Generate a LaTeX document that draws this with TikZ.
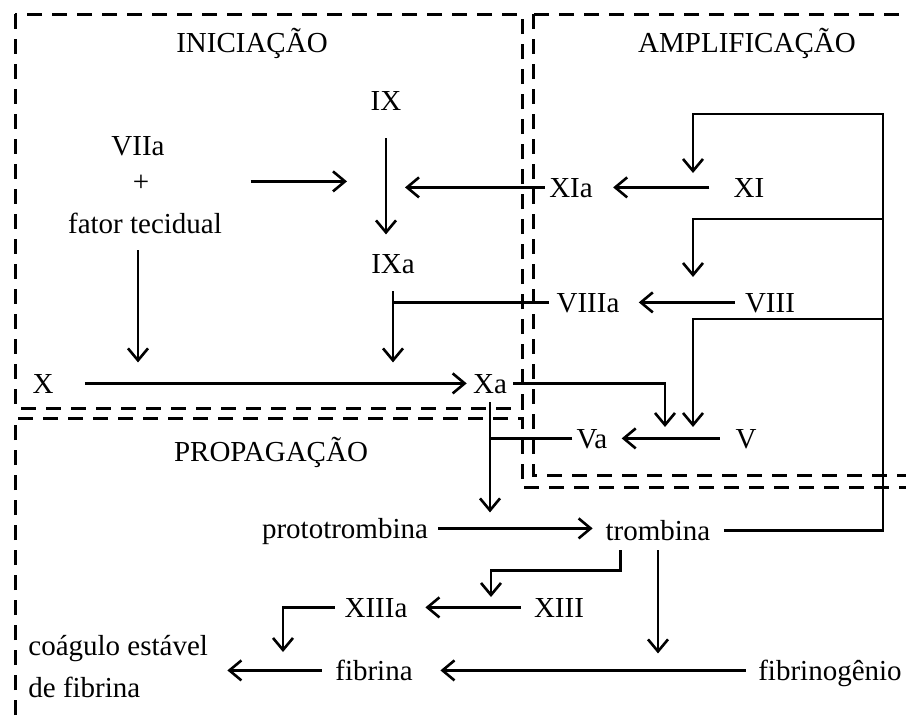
\documentclass[tikz,border=0pt]{standalone}
\usepackage{fontspec}
\setmainfont{Liberation Serif}
\usetikzlibrary{arrows.meta}
\tikzset{
  fac/.style={inner sep=0pt, anchor=base, text height=9.6pt, text depth=0pt, font=\fontsize{14.5}{17}\selectfont},
  lig/.style={line width=1.3pt},
  arr/.style={lig, -{Straight Barb[length=6pt,width=10pt]}},
  caixa/.style={line width=1.5pt, dash pattern=on 7.5pt off 5pt},
}
\begin{document}
\begin{tikzpicture}[x=0.5pt,y=-0.5pt]
\useasboundingbox (0,0) rectangle (906,718);
\clip (0,0) rectangle (906,718);

%Shape: Rectangle (fases)
\draw[caixa] (15,14) rectangle (522,408);
\draw[caixa] (533,14) rectangle (930,475);
\draw[caixa] (15,740) |- (522,418) |- (930,487);

% Text Node
\node[fac] (tIni) at (252,52) {INICIAÇÃO};
\node[fac] (tAmp) at (747,52) {AMPLIFICAÇÃO};
\node[fac] (tProp) at (271,461) {PROPAGAÇÃO};
% Text Node
\node[fac] (VIIa) at (138,155) {VIIa};
\node[fac] (plus) at (141,191) {+};
\node[fac] (tf) at (145,233) {fator tecidual};
\node[fac] (IX) at (386,110) {IX};
\node[fac] (IXa) at (393,273) {IXa};
\node[fac] (X) at (43,393) {X};
\node[fac] (Xa) at (490,393) {Xa};
% Text Node
\node[fac] (XIa) at (571,197) {XIa};
\node[fac] (XI) at (749,197) {XI};
\node[fac] (VIIIa) at (588,312) {VIIIa};
\node[fac] (VIII) at (770,312) {VIII};
\node[fac] (Va) at (592,448) {Va};
\node[fac] (V) at (746,448) {V};
% Text Node
\node[fac] (proto) at (345,538) {prototrombina};
\node[fac] (trombina) at (658,540) {trombina};
\node[fac] (XIII) at (559,617) {XIII};
\node[fac] (XIIIa) at (376,617) {XIIIa};
\node[fac] (fibrina) at (374,680) {fibrina};
\node[fac] (fibrinog) at (830,680) {fibrinogênio};
\node[fac, anchor=base west] (coag) at (28,655) {coágulo estável};
\node[fac, anchor=base west] (coag2) at (28,697) {de fibrina};

%free ends of the connectors
\coordinate (tXI) at (693,173);
\coordinate (tVIII) at (693,277);
\coordinate (tV) at (693,427);
\coordinate (tXa) at (665,427);
\coordinate (tXIII) at (491,597);
\coordinate (tXIIIa) at (283,652);
\coordinate (fb0) at (883,114);
\coordinate (fb1) at (883,219);
\coordinate (fb2) at (883,319);

%Straight Lines (iniciacao)
\draw[arr, shorten <=14pt, shorten >=9.5pt] (IX.south) -- (IX.south |- IXa.north);
\draw[arr, shorten <=50.5pt, shorten >=19.5pt] (plus.east) -- (plus.east -| IX.south);
\draw[arr, shorten <=2pt, shorten >=9.5pt] (XIa.west) -- (XIa.west -| IX.south);
\draw[lig, shorten <=3.5pt] (VIIIa.west) -- (VIIIa.west -| IXa.south);
\draw[arr, shorten <=9pt, shorten >=5.5pt] (IXa.south) -- (IXa.south |- Xa.north);
\draw[arr, shorten <=8.5pt, shorten >=5.5pt] (VIIa.south |- tf.south) -- (VIIa.south |- X.north);
\draw[arr, shorten <=15.5pt, shorten >=3pt] (X.east) -- (Xa.west);

%Straight Lines (amplificacao)
\draw[arr, shorten <=12pt, shorten >=10pt] (XI.west) -- (XIa.east);
\draw[arr, shorten <=5pt, shorten >=9.5pt] (VIII.west) -- (VIIIa.east);
\draw[arr, shorten <=7.75pt, shorten >=7pt] (V.west) -- (Va.east);
\draw[arr, shorten <=3pt] (Xa.east) -| (tXa);
\draw[arr, shorten <=6.5pt] (trombina.east) -| (fb0) -| (tXI);
\draw[arr] (fb1) -| (tVIII);
\draw[arr] (fb2) -| (tV);

%Straight Lines (propagacao)
\draw[lig, shorten <=2pt] (Va.west) -- (Va.west -| Xa.south);
\draw[arr, shorten <=4.5pt, shorten >=8pt] (Xa.south) -- (Xa.south |- proto.east);
\draw[arr, shorten <=5pt, shorten >=6.3pt] (proto.east) -- (proto.east -| trombina.west);
\draw[arr] ([xshift=7.5pt,yshift=-5pt]trombina.south west) -- ++(0,20) -| (tXIII);
\draw[arr, shorten <=5pt, shorten >=8.5pt] (trombina.south) -- (trombina.south |- fibrina.east);
\draw[arr, shorten <=6.5pt, shorten >=8.8pt] (XIII.west) -- (XIIIa.east);
\draw[arr, shorten <=4.8pt] (XIIIa.west) -| (tXIIIa);
\draw[arr, shorten <=6pt, shorten >=13.7pt] (fibrinog.west) -- (fibrinog.west -| fibrina.east);
\draw[arr, shorten <=6.7pt, shorten >=9.5pt] (fibrina.west) -- (fibrina.west -| coag.east);
\end{tikzpicture}
\end{document}
